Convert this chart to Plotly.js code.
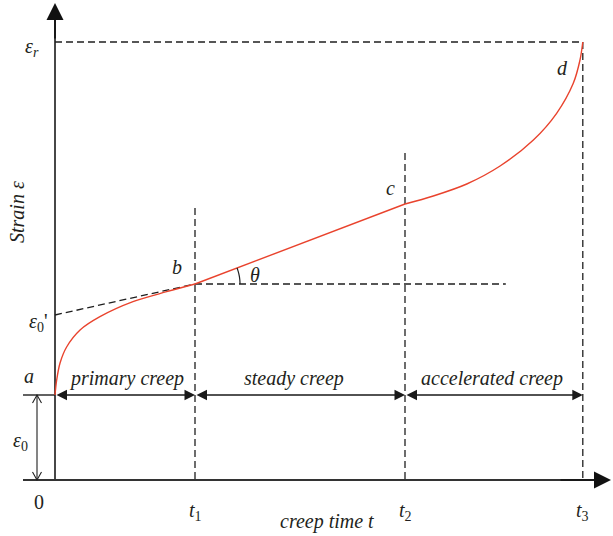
<!DOCTYPE html>
<html>
<head>
<meta charset="utf-8">
<script src="https://cdn.plot.ly/plotly-3.0.1.min.js"></script>
<style>html,body{margin:0;padding:0;background:#fff;}</style>
</head>
<body>
<div id="chart" style="width:613px;height:536px;"></div>
<script>
// Creep curve: strain vs. creep time, three stages.

// phase boundaries on the time axis (0, t1, t2, t3)
const phaseTimes = [0, 1, 2.5, 3.77];
const UP = s => '<span style="font-style:normal">' + s + '</span>';
const phaseTickLabels = ['0', 't<sub>' + UP('1') + '</sub>', 't<sub>' + UP('2') + '</sub>', 't<sub>' + UP('3') + '</sub>'];
const stageNames = ['primary creep', 'steady creep', 'accelerated creep'];

// characteristic strains
const eps0 = 0.85;      // instantaneous strain
const eps0Prime = 1.65; // intercept of the steady-stage tangent
const epsB = 1.96;      // strain at t1
const epsC = 2.76;      // strain at t2
const epsR = 4.38;      // rupture strain

// primary stage a -> b
const primaryT = [0, 0.012, 0.036, 0.083, 0.179, 0.321, 0.557, 0.798, 1.0];
const primaryE = [0.85, 1.00, 1.17, 1.33, 1.50, 1.633, 1.783, 1.883, 1.96];
// steady stage b -> c
const steadyT = [1.0, 2.5];
const steadyE = [1.96, 2.76];
// accelerated stage c -> d
const accelT = [2.5, 2.702, 2.941, 3.179, 3.417, 3.583, 3.702, 3.75, 3.77];
const accelE = [2.76, 2.84, 2.96, 3.14, 3.40, 3.667, 3.967, 4.20, 4.38];

// ---- drawing ----
const W = 613, H = 536;
const PX_T = 140, PX_E = 100;        // pixels per unit on each axis
const X_RANGE = [-55 / PX_T, 558 / PX_T];
const Y_RANGE = [-56 / PX_E, 480 / PX_E];
const pyPaper = p => 1 - p / H;
const pxPaper = p => p / W;

const RED = '#e9432d';
const INK = '#1f1f1f';
const DASH = '7px,4px';
const FONT = {family: 'Liberation Serif, serif', size: 20, color: '#231f20', style: 'italic'};

const curveLine = {color: RED, width: 1.4};
const traces = [
  {x: primaryT, y: primaryE, mode: 'lines', line: Object.assign({shape: 'spline', smoothing: 0.9}, curveLine), hoverinfo: 'skip'},
  {x: steadyT, y: steadyE, mode: 'lines', line: curveLine, hoverinfo: 'skip'},
  {x: accelT, y: accelE, mode: 'lines', line: Object.assign({shape: 'spline', smoothing: 0.9}, curveLine), hoverinfo: 'skip'}
];

const [t0, t1, t2, t3] = phaseTimes;
const leftStub = -32 / PX_T;   // left end of the x axis / eps0 level line
const eps0ArrowX = -18 / PX_T; // x of the eps0 dimension arrow

function seg(x0, y0, x1, y1, dash, width, color) {
  return {type: 'line', xref: 'x', yref: 'y', x0, y0, x1, y1,
          line: {color: color || INK, width: width || 1.3, dash: dash || 'solid'}, layer: 'below'};
}

const shapes = [
  // axes
  seg(leftStub, 0, 3.9, 0, 'solid', 1.8, '#333'),
  seg(0, 0, 0, 4.7, 'solid', 1.8, '#333'),
  // dimension baseline left stub at eps0
  seg(leftStub, eps0, t0, eps0, 'solid', 1.4),
  // eps0 vertical dimension line
  seg(eps0ArrowX, 0, eps0ArrowX, eps0, 'solid', 1.1),
  // rupture strain level and t3
  seg(t0, epsR, t3, epsR, DASH),
  seg(t3, epsR, t3, 0, DASH),
  // t2 and t1 guides
  seg(t2, 3.27, t2, 0, DASH),
  seg(t1, 2.72, t1, 0, DASH),
  // horizontal through b
  seg(t1, epsB, 3.22, epsB, DASH),
  // tangent from eps0' to b
  seg(t0, eps0Prime, t1, epsB, DASH)
];

// open V heads on the eps0 dimension line
function vHead(x, y, dir) {
  const dx = 4.5 / PX_T, dy = dir * 8 / PX_E;
  return {type: 'path', xref: 'x', yref: 'y',
          path: `M${x - dx},${y + dy} L${x},${y} L${x + dx},${y + dy}`,
          line: {color: INK, width: 1.1}};
}
shapes.push(vHead(eps0ArrowX, eps0, -1), vHead(eps0ArrowX, 0, 1));

// theta arc at b
(function () {
  const r = 45, a1 = Math.atan((epsC - epsB) * PX_E / ((t2 - t1) * PX_T));
  let p = '';
  for (let i = 0; i <= 12; i++) {
    const a = a1 * i / 12;
    const x = t1 + r * Math.cos(a) / PX_T, y = epsB + r * Math.sin(a) / PX_E;
    p += (i ? ' L' : 'M') + x + ',' + y;
  }
  shapes.push({type: 'path', xref: 'x', yref: 'y', path: p, line: {color: INK, width: 1.2}});
})();

const annotations = [];

// axis arrows
annotations.push(
  {x: 611 / PX_T - 55 / PX_T, y: 0, ax: 3.6, ay: 0, xref: 'x', yref: 'y', axref: 'x', ayref: 'y',
   text: '', showarrow: true, arrowhead: 2, arrowsize: 2.0, arrowwidth: 1.7, arrowcolor: '#111'},
  {x: 0, y: 4.77, ax: 0, ay: 4.4, xref: 'x', yref: 'y', axref: 'x', ayref: 'y',
   text: '', showarrow: true, arrowhead: 2, arrowsize: 2.0, arrowwidth: 1.7, arrowcolor: '#111'}
);

// stage dimension arrows along the eps0 level
const stageCenters = [126, 294, 492];
for (let i = 0; i < 3; i++) {
  const a = phaseTimes[i], b = phaseTimes[i + 1];
  annotations.push({x: b, y: eps0, ax: a, ay: eps0, xref: 'x', yref: 'y', axref: 'x', ayref: 'y',
    text: '', showarrow: true, arrowside: 'end+start', arrowhead: 2, startarrowhead: 2,
    arrowsize: 1.5, startarrowsize: 1.5, arrowwidth: 1.4, arrowcolor: '#1a1a1a'});
  annotations.push({x: pxPaper(stageCenters[i]), y: pyPaper(378), xref: 'paper', yref: 'paper',
    text: stageNames[i], showarrow: false, font: FONT, xanchor: 'center', yanchor: 'middle'});
}

// time tick labels
phaseTimes.forEach((t, i) => {
  const isZero = i === 0;
  annotations.push({x: isZero ? pxPaper(39) : pxPaper(55 + t * PX_T), y: pyPaper(isZero ? 502 : 511),
    xref: 'paper', yref: 'paper', text: phaseTickLabels[i], showarrow: false,
    font: Object.assign({}, FONT, isZero ? {style: 'normal'} : {}), xanchor: 'center', yanchor: 'middle'});
});

// point and strain labels
function label(text, px, py, extra) {
  annotations.push(Object.assign({x: pxPaper(px), y: pyPaper(py), xref: 'paper', yref: 'paper',
    text, showarrow: false, font: FONT, xanchor: 'center', yanchor: 'middle'}, extra || {}));
}
label('ε<sub>r</sub>', 32, 47);
label('d', 562, 68);
label('c', 390, 188);
label('b', 177, 267);
label('θ', 255, 275);
label('ε<sub>' + UP('0') + '</sub>' + UP("'"), 38, 322);
label('a', 29, 376);
label('ε<sub>' + UP('0') + '</sub>', 20, 441);
label('creep time t', 327, 521);
label('Strain ε', 17, 212, {textangle: -90});

const layout = {
  width: W, height: H,
  margin: {l: 0, r: 0, t: 0, b: 0},
  paper_bgcolor: '#fff', plot_bgcolor: '#fff',
  showlegend: false,
  xaxis: {range: X_RANGE, visible: false, fixedrange: true},
  yaxis: {range: Y_RANGE, visible: false, fixedrange: true},
  shapes, annotations
};

Plotly.newPlot('chart', traces, layout, {staticPlot: true, displayModeBar: false});
</script>
</body>
</html>
